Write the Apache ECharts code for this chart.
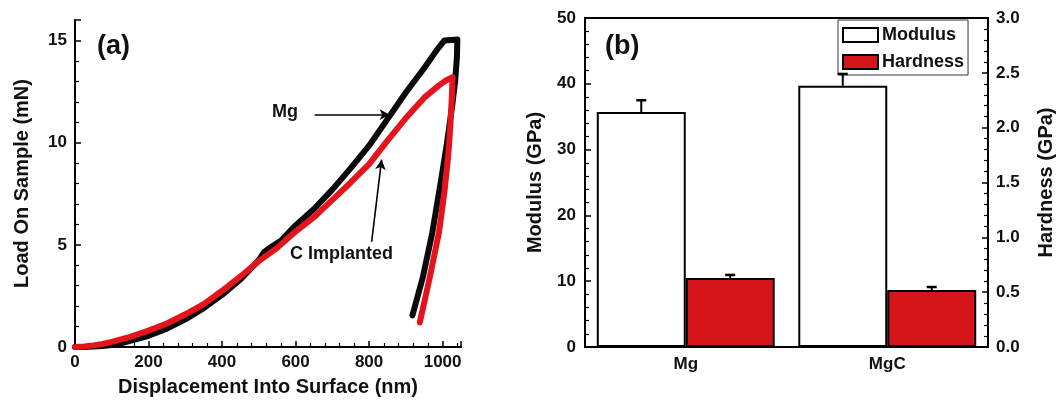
<!DOCTYPE html>
<html><head><meta charset="utf-8">
<script src="https://cdn.jsdelivr.net/npm/echarts@6/dist/echarts.min.js"></script>
<style>html,body{margin:0;padding:0;background:#fff}#c{width:1064px;height:403px}</style>
</head><body><div id="c"></div>
<script>
// ---- Panel (a): load-displacement curves ----
const mgCurve = [
  [0,0],[25,0.0],[50,0.02],[75,0.05],[100,0.1],[125,0.18],[150,0.3],[175,0.42],[200,0.55],[250,0.9],[300,1.35],[350,1.9],[400,2.55],
  [450,3.3],[500,4.25],[515,4.65],[530,4.85],[560,5.2],[600,5.95],[650,6.75],[700,7.7],[750,8.75],
  [800,9.85],[850,11.15],[900,12.45],[950,13.65],[985,14.55],[1005,15.0],[1040,15.05],
  [1039,14.2],[1034,13.0],[1026,11.8],[1012,10.0],[997,8.3],[972,5.6],[946,3.4],[918,1.55]
];
const cCurve = [
  [0,0],[25,0.03],[50,0.08],[75,0.15],[100,0.25],[150,0.5],[200,0.8],[250,1.15],[300,1.6],[350,2.1],[400,2.75],
  [450,3.45],[500,4.2],[550,4.85],[600,5.65],[650,6.35],[700,7.2],[750,8.05],[800,8.95],
  [850,10.1],[900,11.2],[950,12.2],[990,12.8],[1010,13.05],[1027,13.2],
  [1025,12.2],[1021,10.8],[1015,9.3],[1005,7.6],[990,5.6],[965,3.4],[938,1.2]
];
const xTicksA = [0,200,400,600,800,1000];
const yTicksA = [0,5,10,15];
const mgArrow = [[652,11.37],[856,11.37]];
const cArrow = [[807,5.15],[834,9.17]];

// ---- Panel (b): modulus & hardness bars ----
const categories = ['Mg','MgC'];
const modulus = [35.7, 39.7];
const modulusErrTop = [37.5, 41.5];
const hardness = [0.63, 0.52];
const hardnessErrTop = [0.657, 0.547];

const FONT = "'Liberation Sans', Arial, sans-serif";
const RED_LINE = '#e5141c';
const RED_BAR = '#d5151a';
const GAP = 0.117;

function errRender(side){
  return function(params, api){
    const idx = api.value(0), top = api.value(1), base = api.value(2);
    const c = api.coord([idx, top]);
    const b = api.coord([idx, base]);
    const band = api.size([1,0])[0];
    const barW = band*(1-GAP)/2;
    const x = c[0] + side*barW/2;
    return {type:'group', children:[
      {type:'line', shape:{x1:x,y1:b[1],x2:x,y2:c[1]}, style:{stroke:'#000',lineWidth:2}},
      {type:'line', shape:{x1:x-5,y1:c[1],x2:x+5,y2:c[1]}, style:{stroke:'#000',lineWidth:2.5}}
    ]};
  };
}

const axisLabelStyle = {color:'#111', fontFamily:FONT, fontWeight:'bold', fontSize:17};
const nameStyle = {color:'#111', fontFamily:FONT, fontWeight:'bold', fontSize:20};

const chart = echarts.init(document.getElementById('c'), null, {renderer:'canvas'});
chart.setOption({
  animation:false,
  backgroundColor:'#fff',
  grid:[
    {left:75, top:20, width:386, height:327},
    {left:585, top:18, width:403, height:329, show:true, borderColor:'#000', borderWidth:2, backgroundColor:'transparent'}
  ],
  legend:{
    data:['Modulus','Hardness'], orient:'vertical', left:838, top:20,
    itemWidth:35, itemHeight:14, itemGap:9, padding:[6,4,4,4],
    borderColor:'#333', borderWidth:1, icon:'rect',
    textStyle:{color:'#111', fontFamily:FONT, fontWeight:'bold', fontSize:18, padding:[0,0,0,-1]}
  },
  xAxis:[
    {type:'value', gridIndex:0, min:0, max:1050, interval:200,
     axisLine:{show:true, onZero:false, lineStyle:{color:'#000', width:2}},
     axisTick:{show:true, inside:true, length:6, lineStyle:{color:'#000', width:1.5}},
     minorTick:{show:true, splitNumber:5, length:4, lineStyle:{color:'#000', width:1.2}},
     axisLabel:Object.assign({margin:7, showMaxLabel:false, formatter:v=> xTicksA.includes(v)? String(v):''}, axisLabelStyle),
     splitLine:{show:false},
     name:'Displacement Into Surface (nm)', nameLocation:'middle', nameGap:30, nameTextStyle:nameStyle},
    {type:'value', gridIndex:0, min:0, max:1050, position:'top',
     axisLine:{show:true, lineStyle:{color:'#000', width:2}},
     axisTick:{show:false}, axisLabel:{show:false}, splitLine:{show:false}},
    {type:'category', gridIndex:1, data:categories,
     axisLine:{show:true, lineStyle:{color:'#000', width:2}},
     axisTick:{show:false},
     axisLabel:Object.assign({margin:9}, axisLabelStyle, {fontSize:17}),
     splitLine:{show:false}}
  ],
  yAxis:[
    {type:'value', gridIndex:0, min:0, max:16, interval:5,
     axisLine:{show:true, lineStyle:{color:'#000', width:2}},
     axisTick:{show:true, inside:true, length:6, lineStyle:{color:'#000', width:1.5}},
     minorTick:{show:true, splitNumber:5, length:4, lineStyle:{color:'#000', width:1.2}},
     axisLabel:Object.assign({margin:8, showMaxLabel:false, formatter:v=> yTicksA.includes(v)? String(v):''}, axisLabelStyle),
     splitLine:{show:false},
     name:'Load On Sample (mN)', nameLocation:'middle', nameGap:43, nameTextStyle:nameStyle},
    {type:'value', gridIndex:1, min:0, max:50, interval:10,
     axisLine:{show:true, lineStyle:{color:'#000', width:2}},
     axisTick:{show:true, inside:true, length:6, lineStyle:{color:'#000', width:1.5}},
     minorTick:{show:true, splitNumber:5, length:4, lineStyle:{color:'#000', width:1.2}},
     axisLabel:Object.assign({margin:9}, axisLabelStyle),
     splitLine:{show:false},
     name:'Modulus (GPa)', nameLocation:'middle', nameGap:40, nameTextStyle:nameStyle},
    {type:'value', gridIndex:1, min:0, max:3, interval:0.5, position:'right',
     axisLine:{show:true, lineStyle:{color:'#000', width:2}},
     axisTick:{show:true, inside:true, length:6, lineStyle:{color:'#000', width:1.5}},
     minorTick:{show:true, splitNumber:5, length:4, lineStyle:{color:'#000', width:1.2}},
     axisLabel:Object.assign({margin:8, formatter:v=>v.toFixed(1)}, axisLabelStyle),
     splitLine:{show:false},
     name:'Hardness (GPa)', nameLocation:'middle', nameGap:48, nameRotate:90, nameTextStyle:nameStyle}
  ],
  series:[
    {name:'Mg curve', type:'line', xAxisIndex:0, yAxisIndex:0, data:mgCurve,
     showSymbol:false, smooth:false, lineStyle:{color:'#0a0a0a', width:6, join:'round', cap:'round'}, z:2,
     markLine:{silent:true, symbol:['none','arrow'], symbolSize:[8,10],
       lineStyle:{color:'#000', width:1.6, type:'solid'}, label:{show:false},
       data:[[{coord:mgArrow[0]},{coord:mgArrow[1]}],[{coord:cArrow[0]},{coord:cArrow[1]}]]}},
    {name:'C curve', type:'line', xAxisIndex:0, yAxisIndex:0, data:cCurve,
     showSymbol:false, smooth:false, lineStyle:{color:RED_LINE, width:6, join:'round', cap:'round'}, z:3},
    {name:'Modulus', type:'bar', xAxisIndex:2, yAxisIndex:1, data:modulus,
     barGap:'0%', barCategoryGap:(GAP*100)+'%',
     itemStyle:{color:'#fff', borderColor:'#000', borderWidth:2}, z:2},
    {name:'Hardness', type:'bar', xAxisIndex:2, yAxisIndex:2, data:hardness,
     barGap:'0%', barCategoryGap:(GAP*100)+'%',
     itemStyle:{color:RED_BAR, borderColor:'#000', borderWidth:2}, z:2},
    {name:'ModErr', type:'custom', xAxisIndex:2, yAxisIndex:1, z:5,
     data:categories.map((c,i)=>[i, modulusErrTop[i], modulus[i]]),
     encode:{x:0, y:1}, renderItem:errRender(-1)},
    {name:'HardErr', type:'custom', xAxisIndex:2, yAxisIndex:2, z:5,
     data:categories.map((c,i)=>[i, hardnessErrTop[i], hardness[i]]),
     encode:{x:0, y:1}, renderItem:errRender(1)}
  ],
  graphic:[
    {type:'text', left:97, top:33, style:{text:'(a)', font:"bold 27px 'Liberation Sans', Arial", fill:'#111'}},
    {type:'text', left:605, top:33, style:{text:'(b)', font:"bold 27px 'Liberation Sans', Arial", fill:'#111'}},
    {type:'text', left:272, top:103, style:{text:'Mg', font:"bold 18px 'Liberation Sans', Arial", fill:'#111'}},
    {type:'text', left:290, top:245, style:{text:'C Implanted', font:"bold 18px 'Liberation Sans', Arial", fill:'#111'}}
  ]
});
</script></body></html>
